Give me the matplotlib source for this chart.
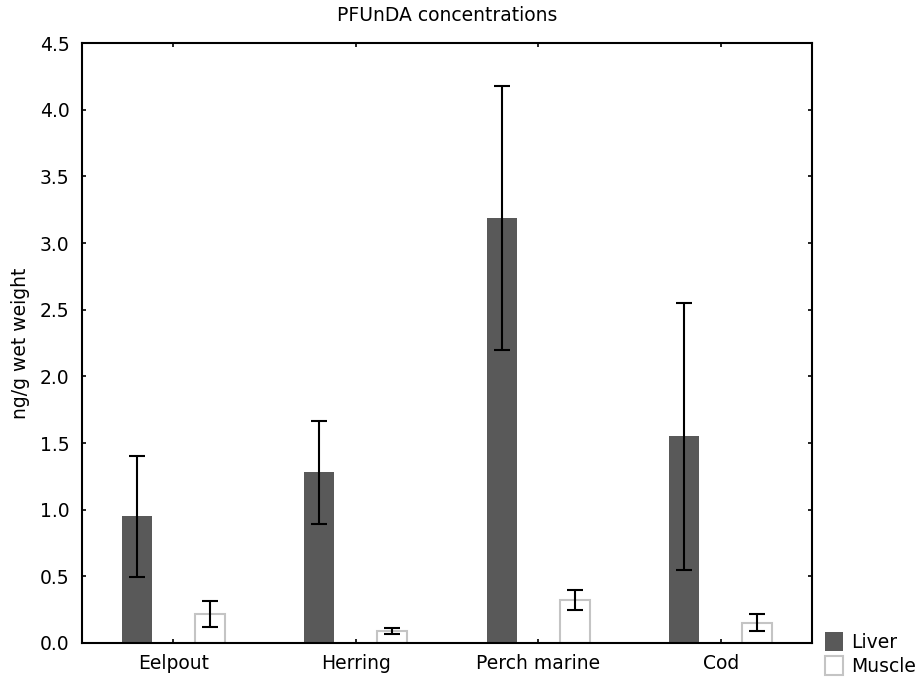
import numpy as np
import matplotlib.pyplot as plt

plt.rcParams['font.family'] = ['DejaVu Sans']

species = ['Eelpout', 'Herring', 'Perch marine', 'Cod']
liver = [0.95, 1.28, 3.19, 1.55]
liver_err = [0.455, 0.385, 0.99, 1.0]
muscle = [0.22, 0.09, 0.32, 0.15]
muscle_err = [0.097, 0.02, 0.075, 0.064]

fig = plt.figure(figsize=(9.17, 6.84), dpi=100)
ax = fig.add_axes([0.0894, 0.060, 0.796, 0.877])

x = np.arange(len(species))
w = 0.164
ax.bar(x - 0.2, liver, w, color='#595959', edgecolor='none', label='Liver', zorder=2)
ax.bar(x + 0.2, muscle, w, color='white', edgecolor='#c4c4c4', linewidth=1.5,
       label='Muscle', zorder=2)
ax.errorbar(x - 0.2, liver, yerr=liver_err, fmt='none', ecolor='black',
            elinewidth=1.5, capsize=5.5, capthick=1.5, zorder=3)
ax.errorbar(x + 0.2, muscle, yerr=muscle_err, fmt='none', ecolor='black',
            elinewidth=1.5, capsize=5.5, capthick=1.5, zorder=3)

ax.set_xlim(-0.5, 3.5)
ax.set_ylim(0, 4.5)
ax.set_xticks(x)
ax.set_xticklabels(species)
ax.set_yticks(np.arange(0, 4.51, 0.5))
ax.set_yticklabels([f'{v:.1f}' for v in np.arange(0, 4.51, 0.5)])
ax.tick_params(direction='in', length=3, width=1.2, labelsize=13.5,
               top=True, right=True)
ax.tick_params(axis='y', pad=9)
ax.tick_params(axis='x', pad=8)
for s in ax.spines.values():
    s.set_linewidth(1.5)

ax.set_ylabel('ng/g wet weight', fontsize=13.5, labelpad=7)
ax.set_title('PFUnDA concentrations', fontsize=13.5, pad=16)

fig.legend(loc='lower left', bbox_to_anchor=(825 / 917, 0.012), frameon=False,
           fontsize=13.5, handlelength=0.95, handleheight=1.2, handletextpad=0.45,
           labelspacing=0.2, borderpad=0, borderaxespad=0)

plt.savefig('out.png', dpi=100)
